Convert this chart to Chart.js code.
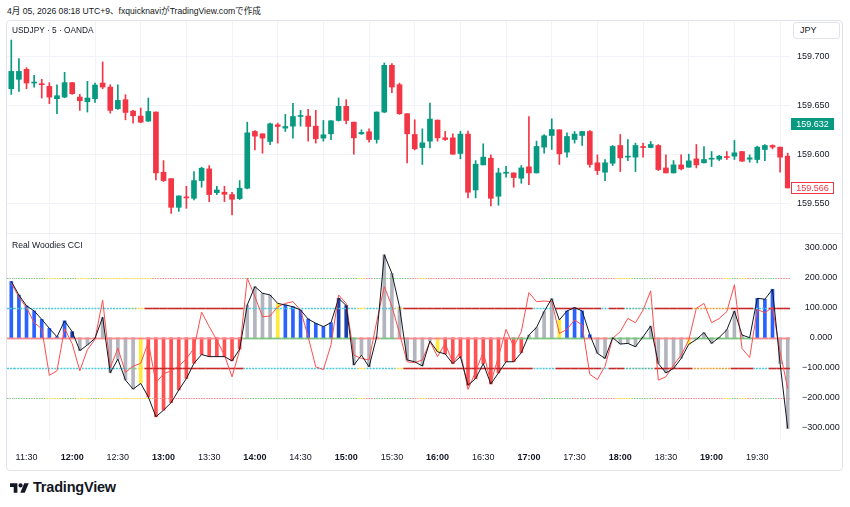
<!DOCTYPE html>
<html><head><meta charset="utf-8">
<script src="https://cdn.jsdelivr.net/npm/chart.js@4.4.1/dist/chart.umd.min.js"></script>
<style>
*{box-sizing:border-box}
html,body{margin:0;padding:0;background:#fff;}
body{width:850px;height:507px;position:relative;overflow:hidden;font-family:"Liberation Sans",Arial,"Noto Sans CJK JP",sans-serif;color:#131722;}
.abs{position:absolute}
#hdr{left:7px;top:6px;font-size:8.6px;line-height:11px;white-space:nowrap;}
#frame{left:6px;top:20px;width:837px;height:451px;border:1px solid #e0e3eb;border-radius:4px;}
#sep{left:7px;top:233px;width:835px;height:1px;background:#eceef2;}
#w1{left:7px;top:21px;width:835px;height:212px;}
#w2{left:7px;top:234px;width:835px;height:236px;}
#sym{left:12px;top:25px;font-size:8.3px;line-height:11px;white-space:nowrap;}
#ind{left:12px;top:240px;font-size:8.6px;line-height:11px;white-space:nowrap;}
#jpy{left:793px;top:22px;width:47px;height:17px;border:1px solid #e0e3eb;border-radius:3px;font-size:9px;line-height:15px;padding-left:6px;background:#fff;}
#logo{left:10px;top:479px;height:16px;display:flex;align-items:center;gap:4px;font-weight:bold;font-size:14.5px;letter-spacing:-0.2px;}
canvas{display:block}
</style></head><body>
<div id="hdr" class="abs">4月 05, 2026 08:18 UTC+9、fxquicknaviがTradingView.comで作成</div>
<div id="frame" class="abs"></div>
<div id="w1" class="abs"><canvas id="c1" width="835" height="212"></canvas></div>
<div id="sep" class="abs"></div>
<div id="w2" class="abs"><canvas id="c2" width="835" height="236"></canvas></div>
<div id="sym" class="abs">USDJPY · 5 · OANDA</div>
<div id="ind" class="abs">Real Woodies CCI</div>
<div id="jpy" class="abs">JPY</div>
<div id="logo" class="abs"><svg width="19" height="13" viewBox="0 0 36 24"><path d="M14 22H7V11H0V4h14v18z" fill="#131722"/><circle cx="20" cy="8" r="4" fill="#131722"/><path d="M28 22h-8.5l7.5-18h8.5z" fill="#131722"/></svg><span>TradingView</span></div>
<script>
// ---------- DATA ----------
const times = [
"11:20","11:25","11:30","11:35","11:40","11:45","11:50","11:55",
"12:00","12:05","12:10","12:15","12:20","12:25","12:30","12:35","12:40","12:45","12:50","12:55",
"13:00","13:05","13:10","13:15","13:20","13:25","13:30","13:35","13:40","13:45","13:50","13:55",
"14:00","14:05","14:10","14:15","14:20","14:25","14:30","14:35","14:40","14:45","14:50","14:55",
"15:00","15:05","15:10","15:15","15:20","15:25","15:30","15:35","15:40","15:45","15:50","15:55",
"16:00","16:05","16:10","16:15","16:20","16:25","16:30","16:35","16:40","16:45","16:50","16:55",
"17:00","17:05","17:10","17:15","17:20","17:25","17:30","17:35","17:40","17:45","17:50","17:55",
"18:00","18:05","18:10","18:15","18:20","18:25","18:30","18:35","18:40","18:45","18:50","18:55",
"19:00","19:05","19:10","19:15","19:20","19:25","19:30","19:35","19:40","19:45","19:50"];

const open = [159.6676,159.6772,159.6874,159.6734,159.6724,159.6700,159.6574,159.6591,159.6738,159.6591,
159.6543,159.6574,159.6734,159.6693,159.6472,159.6564,159.6448,159.6397,159.6346,159.6438,
159.5824,159.5759,159.5466,159.5569,159.5558,159.5739,159.5858,159.5616,159.5620,159.5596,
159.5555,159.5661,159.6240,159.6216,159.6138,159.6308,159.6274,159.6294,159.6393,159.6397,
159.6294,159.6172,159.6216,159.6352,159.6496,159.6335,159.6216,159.6237,159.6158,159.6438,
159.6915,159.6717,159.6421,159.6209,159.6076,159.6141,159.6356,159.6175,159.6175,159.6015,
159.6213,159.5643,159.5899,159.5967,159.5579,159.5814,159.5817,159.5763,159.5879,159.5817,
159.6080,159.6199,159.6257,159.6029,159.6158,159.6199,159.6240,159.5920,159.5824,159.5916,
159.6097,159.5978,159.5978,159.6087,159.6076,159.6097,159.5868,159.5817,159.5899,159.5875,
159.5960,159.5920,159.5957,159.5957,159.5984,159.5988,159.6035,159.5957,159.5954,159.6056,
159.6097,159.6080,159.5988];
const high = [159.7173,159.6983,159.6891,159.6813,159.6772,159.6738,159.6717,159.6843,159.6740,159.6618,
159.6751,159.6734,159.6949,159.6717,159.6717,159.6615,159.6455,159.6479,159.6581,159.6440,
159.5943,159.5760,159.5584,159.5681,159.5831,159.5875,159.5892,159.5681,159.5681,159.5620,
159.5739,159.6335,159.6250,159.6217,159.6325,159.6325,159.6414,159.6526,159.6455,159.6465,
159.6455,159.6352,159.6352,159.6581,159.6564,159.6336,159.6257,159.6267,159.6440,159.6939,
159.6932,159.6734,159.6422,159.6359,159.6267,159.6530,159.6357,159.6240,159.6216,159.6243,
159.6243,159.5943,159.6114,159.6001,159.5865,159.5885,159.5818,159.5892,159.6393,159.6141,
159.6209,159.6369,159.6258,159.6226,159.6240,159.6241,159.6250,159.6001,159.5954,159.6097,
159.6209,159.6158,159.6121,159.6121,159.6138,159.6107,159.6001,159.5943,159.6001,159.6008,
159.6107,159.6087,159.6035,159.5995,159.6035,159.6148,159.6036,159.6001,159.6090,159.6107,
159.6104,159.6081,159.6018];
const low = [159.6618,159.6649,159.6676,159.6693,159.6581,159.6523,159.6421,159.6584,159.6618,159.6455,
159.6438,159.6536,159.6676,159.6427,159.6465,159.6359,159.6325,159.6329,159.6342,159.5746,
159.5729,159.5405,159.5425,159.5456,159.5541,159.5671,159.5524,159.5596,159.5524,159.5388,
159.5545,159.5654,159.6052,159.6018,159.6104,159.6121,159.6240,159.6172,159.6294,159.6141,
159.6121,159.6141,159.6155,159.6346,159.6318,159.6008,159.6209,159.6131,159.6121,159.6431,
159.6635,159.6414,159.5920,159.6052,159.5903,159.6073,159.6141,159.6148,159.6006,159.5960,
159.5562,159.5562,159.5898,159.5480,159.5487,159.5773,159.5671,159.5712,159.5698,159.5816,
159.6018,159.6056,159.5903,159.5978,159.6121,159.6097,159.5875,159.5800,159.5739,159.5892,
159.5831,159.5943,159.5831,159.5978,159.6073,159.5841,159.5816,159.5816,159.5848,159.5874,
159.5868,159.5919,159.5882,159.5943,159.5954,159.5954,159.5935,159.5926,159.5920,159.5943,
159.6063,159.5824,159.5663];
const close = [159.6853,159.6853,159.6734,159.6741,159.6717,159.6591,159.6605,159.6738,159.6625,159.6553,
159.6581,159.6714,159.6693,159.6455,159.6557,159.6434,159.6400,159.6335,159.6444,159.5817,
159.5739,159.5466,159.5582,159.5562,159.5739,159.5865,159.5596,159.5643,159.5599,159.5548,
159.5661,159.6226,159.6192,159.6172,159.6318,159.6291,159.6291,159.6393,159.6400,159.6291,
159.6165,159.6206,159.6349,159.6496,159.6352,159.6175,159.6230,159.6158,159.6438,159.6915,
159.6693,159.6421,159.6216,159.6063,159.6124,159.6366,159.6175,159.6158,159.6008,159.6213,
159.5620,159.5906,159.5978,159.5558,159.5817,159.5824,159.5770,159.5868,159.5817,159.6087,
159.6196,159.6260,159.6012,159.6189,159.6213,159.6240,159.5903,159.5841,159.5920,159.6087,
159.5971,159.5984,159.6097,159.6076,159.6107,159.5851,159.5817,159.5899,159.5858,159.5940,
159.5899,159.5954,159.5967,159.5988,159.5974,159.6022,159.5937,159.5971,159.6080,159.6097,
159.6080,159.5978,159.5664];

const cci = [187,142,106,89,61,31,3,56,20,-43,-24,-2,68,-117,-71,-141,-171,-152,-197,-263,
-241,-216,-174,-136,-85,-56,-63,-63,-63,-77,-38,109,170,148,142,114,109,103,92,62,
48,37,50,131,107,-91,-58,-97,3,276,214,103,-74,-80,-94,-11,-47,-54,-86,-63,
-158,-136,-86,-154,-117,-80,-80,-50,9,34,87,130,59,89,100,89,10,-52,-69,0,
-21,-19,-30,3,39,-86,-117,-102,-69,-22,-6,17,-19,1,26,89,9,0,131,128,
161,-86,-302];
const tcci = [181,135,100,50,30,-125,-110,30,-20,-110,-40,-5,125,-100,-35,-115,-95,-85,-15,-150,
-120,-110,-95,-70,-35,85,37,-8,-58,-130,-41,198,137,70,72,103,114,120,92,3,
-97,-106,-24,142,114,-58,-69,-74,53,170,105,14,-80,-83,-74,-13,-63,-19,-83,-47,
-172,-113,-47,-150,-63,28,-30,20,150,120,122,120,14,28,59,42,-122,-139,-95,-2,
20,64,50,92,156,-141,-130,-91,-58,-8,98,114,50,64,87,176,-36,-66,94,83,
101,-47,-169];

// histogram state per bar: B up-trend, D strong up, N neutral, Y transition, R down-trend
const histState = ("BBBBBBBB"+"D"+"NNNNNNNN"+"Y"+"RRRRRRRRRRRRR"+"NNNN"+"Y"+"BBBBBBB"+"DD"+
  "NNNNNNNNNNN"+"Y"+"RRRRRRRRRRR"+"NNNN"+"Y"+"BBBB"+"NNNNNNNNNNNN"+"Y"+"NNNNNNNN"+"BBB"+"NN").split("");
// level line states per bar
const state200 = ("GGGGG"+"YY"+"GG"+"YY"+"G"+"YYYYYYY"+"PPPPPPPPPPPP"+"GGGGGGGGGGGGGGG"+"Y"+"P"+"GGGGG"+"P"+"Y"+
  "PPPPPPPPPPPPPPP"+"GGGG"+"P"+"G"+"PPPP"+"YY"+"GGG"+"PPPPPPPPP"+"Y"+"G"+"Y"+"P"+"GGG"+"PP").split("");
const state100 = ("CCCCCCCCCCCCCCCC"+"G"+"Y"+"DDDDDDDDDDDDD"+"CCCCCCCCCCCCCCC"+"Y"+"CCCC"+"Y"+
  "DDDDDDDDDDDDDDDDD"+"CCC"+"DDDDDD"+"C"+"DD"+"TTTT"+"DDDDD"+"OOOOO"+"DDD"+"CC"+"DDD").split("");
const state0 = ("PPPPPPPPPPPPPPPPPPPPPPPPPPPPPPP"+"GGGGGGGGGGGGGGG"+"PPP"+"GG"+"PPPPPPPPPPPPPPP"+
  "GGGGGGGGGG"+"PPP"+"GGGGGG"+"PPPPP"+"GGGGGGGG"+"PPPPP").split("");

const priceTicks = [159.55, 159.60, 159.65, 159.70];
const cciTicks = [-300, -200, -100, 0, 100, 200, 300];
const refPrice = 159.632;

// ---------- CHART ----------
const N = times.length;
const FONT = '"Liberation Sans", Arial, sans-serif';
Chart.defaults.font.family = FONT;
Chart.defaults.font.size = 9;
Chart.defaults.color = '#131722';
const UP = '#089981', DN = '#f23645', GRID = '#f0f3fa';
const X_MIN = -0.565, X_MAX = 102.3;

const xIdx = times.map((t, i) => i);
const timeTickIdx = xIdx.filter(i => /:(00|30)$/.test(times[i]));

function fixY(w) { return s => { s.width = w; s.paddingTop = 0; s.paddingBottom = 0; }; }

const bodies = xIdx.map(i => ({x: i, y: [Math.min(open[i], close[i]), Math.max(open[i], close[i])]}));
const wicks = xIdx.map(i => ({x: i, y: [low[i], high[i]]}));
const candleColor = xIdx.map(i => close[i] >= open[i] ? UP : DN);

const tagPlugin = {
  id: 'tags',
  afterDraw(chart) {
    const {ctx, scales: {y}, chartArea: a} = chart;
    const tags = [
      {v: refPrice, fill: UP, stroke: UP, text: '#ffffff'},
      {v: close[N - 1], fill: '#ffffff', stroke: DN, text: DN}
    ];
    ctx.save();
    ctx.font = '9px ' + FONT;
    ctx.textAlign = 'center';
    ctx.textBaseline = 'middle';
    tags.forEach(t => {
      const py = Math.round(y.getPixelForValue(t.v));
      const x0 = Math.round(a.right) + 1, w = 43, h = 12;
      ctx.fillStyle = t.fill;
      ctx.fillRect(x0, py - h / 2, w, h);
      ctx.strokeStyle = t.stroke;
      ctx.lineWidth = 1;
      ctx.strokeRect(x0 + 0.5, py - h / 2 + 0.5, w - 1, h - 1);
      ctx.fillStyle = t.text;
      ctx.fillText(t.v.toFixed(3), x0 + w / 2, py + 0.5);
    });
    ctx.restore();
  }
};

new Chart(document.getElementById('c1'), {
  type: 'bar',
  data: {
    datasets: [
      {data: bodies, backgroundColor: candleColor, borderWidth: 0, barThickness: 5, grouped: false, minBarLength: 1},
      {data: wicks, backgroundColor: candleColor, borderWidth: 0, barThickness: 1, grouped: false}
    ]
  },
  options: {
    responsive: false, animation: false, events: [],
    layout: {padding: 0},
    plugins: {legend: {display: false}, tooltip: {enabled: false}},
    scales: {
      x: {
        type: 'linear', min: X_MIN, max: X_MAX, offset: false,
        afterBuildTicks: s => { s.ticks = timeTickIdx.map(v => ({value: v})); },
        afterFit: s => { s.height = 0; s.paddingLeft = 0; s.paddingRight = 0; },
        ticks: {display: false},
        grid: {color: GRID, drawTicks: false},
        border: {display: false}
      },
      y: {
        position: 'right', min: 159.5204, max: 159.7367,
        afterBuildTicks: s => { s.ticks = priceTicks.map(v => ({value: v})); },
        afterFit: fixY(52),
        ticks: {crossAlign: 'center', padding: 7, callback: v => v.toFixed(3), color: '#131722'},
        grid: {color: GRID, drawTicks: false},
        border: {display: false}
      }
    }
  },
  plugins: [tagPlugin]
});

const histColors = {B: '#2962ff', D: '#1a3fb0', N: '#b2b5be', Y: '#ffeb3b', R: '#ff5252'};
const lvlColors = {G: '#7cc47f', Y: '#fdd835', P: '#f7888c', C: '#4dc9db', D: '#c62828', T: '#4db6a0', O: '#eea13a'};
const levels = [
  {value: 200, st: state200, w: 1.2, dash: [1.5, 1]},
  {value: -200, st: state200, w: 1.2, dash: [1.5, 1]},
  {value: 100, st: state100, w: 1.6, dash: null},
  {value: -100, st: state100, w: 1.6, dash: null},
  {value: 0, st: state0, w: 1.8, dash: null}
];

const levelPlugin = {
  id: 'levels',
  afterDatasetDraw(chart, args) {
    if (args.index !== 2) return;
    const {ctx, chartArea: a, scales: {x, y}} = chart;
    ctx.save();
    ctx.beginPath(); ctx.rect(a.left, a.top, a.width, a.height); ctx.clip();
    levels.forEach(lv => {
      const py = Math.round(y.getPixelForValue(lv.value)) + 0.5;
      for (let i = 0; i < N; i++) {
        const code = lv.st[i];
        const x0 = i === 0 ? a.left : x.getPixelForValue(i - 0.5);
        const x1 = i === N - 1 ? a.right : x.getPixelForValue(i + 0.5);
        ctx.strokeStyle = lvlColors[code];
        ctx.lineWidth = lv.w;
        const dash = lv.dash || (code === 'D' || lv.value === 0 ? null : [2, 1]);
        ctx.setLineDash(dash || []);
        ctx.lineDashOffset = -x0;
        ctx.beginPath(); ctx.moveTo(x0, py); ctx.lineTo(x1, py); ctx.stroke();
      }
    });
    ctx.restore();
  }
};

new Chart(document.getElementById('c2'), {
  type: 'bar',
  data: {
    datasets: [
      {type: 'line', data: xIdx.map(i => ({x: i, y: cci[i]})), borderColor: '#131722', borderWidth: 1, pointRadius: 0, tension: 0},
      {type: 'line', data: xIdx.map(i => ({x: i, y: tcci[i]})), borderColor: '#ff4d4d', borderWidth: 1, pointRadius: 0, tension: 0},
      {type: 'bar', data: xIdx.map(i => ({x: i, y: cci[i]})), backgroundColor: histState.map(s => histColors[s]), borderWidth: 0, barThickness: 3, grouped: false}
    ]
  },
  options: {
    responsive: false, animation: false, events: [],
    layout: {padding: 0},
    plugins: {legend: {display: false}, tooltip: {enabled: false}},
    scales: {
      x: {
        type: 'linear', min: X_MIN, max: X_MAX, offset: false,
        afterBuildTicks: s => { s.ticks = timeTickIdx.map(v => ({value: v})); },
        afterFit: s => { s.height = 30; s.paddingLeft = 0; s.paddingRight = 0; },
        ticks: {
          padding: 12, maxRotation: 0, autoSkip: false,
          callback: v => times[v],
          font: c => ({size: 9, weight: (c.tick && /:00$/.test(String(c.tick.label))) ? 'bold' : 'normal'}),
          color: '#131722'
        },
        grid: {color: GRID, drawTicks: false},
        border: {display: false}
      },
      y: {
        position: 'right', min: -340.2, max: 344.9,
        afterBuildTicks: s => { s.ticks = cciTicks.map(v => ({value: v})); },
        afterFit: fixY(52),
        ticks: {crossAlign: 'center', padding: 4, callback: v => (v < 0 ? '\u2212' : '') + Math.abs(v).toFixed(3), color: '#131722'},
        grid: {display: false},
        border: {display: false}
      }
    }
  },
  plugins: [levelPlugin]
});
</script>
</body></html>
